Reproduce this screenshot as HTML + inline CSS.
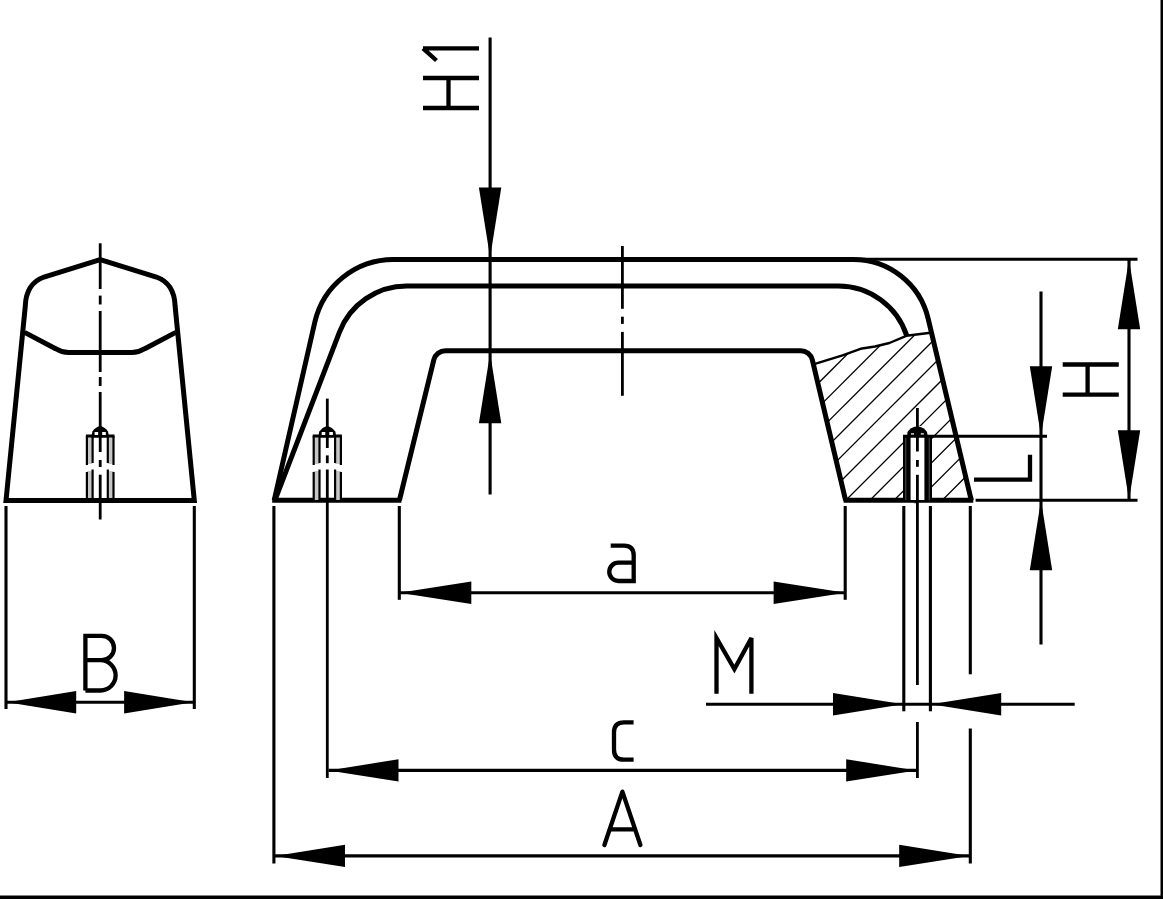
<!DOCTYPE html>
<html><head><meta charset="utf-8"><title>Handle drawing</title>
<style>html,body{margin:0;padding:0;background:#fff;width:1163px;height:899px;overflow:hidden;font-family:"Liberation Sans",sans-serif}svg{display:block}</style>
</head><body>
<svg width="1163" height="899" viewBox="0 0 1163 899" role="img" aria-label="Technical drawing of a handle with dimensions H1, H, L, a, B, M, c, A">
<defs><filter id="bl" x="-1%" y="-1%" width="102%" height="102%"><feGaussianBlur stdDeviation="0.75"/></filter><clipPath id="hc"><path clip-rule="evenodd" d="M813.37 364.3 L842.5 355.3 L860.5 348.8 L875 346.5 L889.4 343 L906.3 335.8 L930.52 332.8 L971.3 500.3 L845.6 500.3 Z M903.5 503.3 L903.5 426 L932 426 L932 503.3 Z"/></clipPath></defs>
<rect width="1163" height="899" fill="#fff"/>
<g stroke="#000" fill="none" filter="url(#bl)">
<path d="M274.2 500.3 L314.79 322.26 A80.7 80.7 0 0 1 393.47 259.5 L853.41 259.5 A76.8 76.8 0 0 1 928.14 318.55 L971.3 500.3" stroke-width="5" fill="none" />
<path d="M274.9 500.3 L339.45 332.19 A72 72 0 0 1 406.67 286 L838.3 286 A72 72 0 0 1 906.79 335.8" stroke-width="5" fill="none" />
<path d="M399.4 500.3 L433.81 359.84 A12 12 0 0 1 445.47 350.7 L800.66 350.7 A12 12 0 0 1 812.33 359.93 L845.6 500.3" stroke-width="5" fill="none" />
<path d="M272.2 500.3 H401.4" stroke-width="5" fill="none" />
<path d="M843.6 500.3 H973.3" stroke-width="5" fill="none" />
<g clip-path="url(#hc)" stroke-width="1.3"><line x1="891.5" y1="310" x2="691.5" y2="510"/><line x1="915.6" y1="310" x2="715.6" y2="510"/><line x1="939.7" y1="310" x2="739.7" y2="510"/><line x1="963.8" y1="310" x2="763.8" y2="510"/><line x1="987.9" y1="310" x2="787.9" y2="510"/><line x1="1012" y1="310" x2="812" y2="510"/><line x1="1036.1" y1="310" x2="836.1" y2="510"/><line x1="1060.2" y1="310" x2="860.2" y2="510"/><line x1="1084.3" y1="310" x2="884.3" y2="510"/><line x1="1108.4" y1="310" x2="908.4" y2="510"/><line x1="1132.5" y1="310" x2="932.5" y2="510"/><line x1="1156.6" y1="310" x2="956.6" y2="510"/><line x1="1180.7" y1="310" x2="980.7" y2="510"/></g>
<path d="M813.37 364.3 L842.5 355.3 L860.5 348.8 L875 346.5 L889.4 343 L906.3 335.8 L930.52 332.8" stroke-width="2.4" fill="none" stroke-linejoin="round"/>
<rect x="86.9" y="436" width="5.7" height="64" fill="#c6c6c6" stroke="none"/>
<rect x="107.8" y="436" width="5.7" height="64" fill="#c6c6c6" stroke="none"/>
<rect x="84.9" y="464" width="30.6" height="7" fill="#fff" stroke="none"/>
<line x1="86.9" y1="436" x2="86.9" y2="465" stroke-width="2.2" stroke-linecap="butt"/>
<line x1="86.9" y1="472" x2="86.9" y2="500.3" stroke-width="2.2" stroke-linecap="butt"/>
<line x1="113.5" y1="436" x2="113.5" y2="465" stroke-width="2.2" stroke-linecap="butt"/>
<line x1="113.5" y1="472" x2="113.5" y2="500.3" stroke-width="2.2" stroke-linecap="butt"/>
<line x1="92.6" y1="436" x2="92.6" y2="463" stroke-width="2.2" stroke-linecap="butt"/>
<line x1="92.6" y1="469.5" x2="92.6" y2="500.3" stroke-width="2.2" stroke-linecap="butt"/>
<line x1="107.8" y1="436" x2="107.8" y2="463" stroke-width="2.2" stroke-linecap="butt"/>
<line x1="107.8" y1="469.5" x2="107.8" y2="500.3" stroke-width="2.2" stroke-linecap="butt"/>
<line x1="85.9" y1="436" x2="114.5" y2="436" stroke-width="3" stroke-linecap="butt"/>
<path d="M91.2 437.5 L92.4 431.5 Q95.2 427.3 100.2 425.8 Q105.2 427.3 108 431.5 L109.2 437.5 Z" stroke-width="0" fill="#000" stroke="none"/>
<rect x="94.6" y="432" width="3.6" height="3" fill="#fff" stroke="none"/>
<rect x="102.2" y="432" width="3.6" height="3" fill="#fff" stroke="none"/>
<rect x="313.7" y="436" width="5.8" height="64" fill="#c6c6c6" stroke="none"/>
<rect x="335.1" y="436" width="5.8" height="64" fill="#c6c6c6" stroke="none"/>
<rect x="311.7" y="464" width="31.2" height="7" fill="#fff" stroke="none"/>
<line x1="313.7" y1="436" x2="313.7" y2="465" stroke-width="2.2" stroke-linecap="butt"/>
<line x1="313.7" y1="472" x2="313.7" y2="500.3" stroke-width="2.2" stroke-linecap="butt"/>
<line x1="340.9" y1="436" x2="340.9" y2="465" stroke-width="2.2" stroke-linecap="butt"/>
<line x1="340.9" y1="472" x2="340.9" y2="500.3" stroke-width="2.2" stroke-linecap="butt"/>
<line x1="319.5" y1="436" x2="319.5" y2="463" stroke-width="2.2" stroke-linecap="butt"/>
<line x1="319.5" y1="469.5" x2="319.5" y2="500.3" stroke-width="2.2" stroke-linecap="butt"/>
<line x1="335.1" y1="436" x2="335.1" y2="463" stroke-width="2.2" stroke-linecap="butt"/>
<line x1="335.1" y1="469.5" x2="335.1" y2="500.3" stroke-width="2.2" stroke-linecap="butt"/>
<line x1="312.7" y1="436" x2="341.9" y2="436" stroke-width="3" stroke-linecap="butt"/>
<path d="M318.1 437.5 L319.3 431.5 Q322.3 427.3 327.3 425.8 Q332.3 427.3 335.3 431.5 L336.5 437.5 Z" stroke-width="0" fill="#000" stroke="none"/>
<rect x="321.7" y="432" width="3.6" height="3" fill="#fff" stroke="none"/>
<rect x="329.3" y="432" width="3.6" height="3" fill="#fff" stroke="none"/>
<rect x="903.5" y="436" width="28" height="64" fill="#fff" stroke="none"/>
<rect x="904" y="436" width="5" height="64" fill="#3a3a3a" stroke="none"/>
<rect x="926" y="436" width="5" height="64" fill="#3a3a3a" stroke="none"/>
<line x1="904" y1="436" x2="904" y2="500.3" stroke-width="2" stroke-linecap="butt"/>
<line x1="931" y1="436" x2="931" y2="500.3" stroke-width="2" stroke-linecap="butt"/>
<line x1="908.5" y1="436" x2="908.5" y2="500.3" stroke-width="4.2" stroke-linecap="butt"/>
<line x1="926.5" y1="436" x2="926.5" y2="500.3" stroke-width="4.2" stroke-linecap="butt"/>
<path d="M907 437 L907.5 432 Q910 427.5 917.3 426.3 Q924.5 427.5 927 432 L928 437 Z" stroke-width="0" fill="#000" stroke="none"/>
<rect x="911" y="433.3" width="3" height="1.4" fill="#fff" stroke="none"/>
<rect x="920.8" y="433.3" width="3" height="1.4" fill="#fff" stroke="none"/>
<line x1="903" y1="436.2" x2="1047" y2="436.2" stroke-width="2.9" stroke-linecap="butt"/>
<line x1="100.2" y1="243.3" x2="100.2" y2="289" stroke-width="2.8" stroke-linecap="butt"/>
<line x1="100.2" y1="295.6" x2="100.2" y2="304.5" stroke-width="2.8" stroke-linecap="butt"/>
<line x1="100.2" y1="311" x2="100.2" y2="372" stroke-width="2.8" stroke-linecap="butt"/>
<line x1="100.2" y1="377" x2="100.2" y2="386" stroke-width="2.8" stroke-linecap="butt"/>
<line x1="100.2" y1="392" x2="100.2" y2="452" stroke-width="2.8" stroke-linecap="butt"/>
<line x1="100.2" y1="460" x2="100.2" y2="467" stroke-width="2.8" stroke-linecap="butt"/>
<line x1="100.2" y1="474.7" x2="100.2" y2="519.5" stroke-width="2.8" stroke-linecap="butt"/>
<line x1="327.3" y1="398.6" x2="327.3" y2="448" stroke-width="2.8" stroke-linecap="butt"/>
<line x1="327.3" y1="455.4" x2="327.3" y2="463.2" stroke-width="2.8" stroke-linecap="butt"/>
<line x1="327.3" y1="469.5" x2="327.3" y2="778" stroke-width="2.8" stroke-linecap="butt"/>
<line x1="917.4" y1="408" x2="917.4" y2="451.5" stroke-width="2.8" stroke-linecap="butt"/>
<line x1="917.4" y1="460" x2="917.4" y2="466.8" stroke-width="2.8" stroke-linecap="butt"/>
<line x1="917.4" y1="474.8" x2="917.4" y2="685" stroke-width="2.8" stroke-linecap="butt"/>
<line x1="917.4" y1="722" x2="917.4" y2="778" stroke-width="2.8" stroke-linecap="butt"/>
<line x1="622.2" y1="246" x2="622.2" y2="308.8" stroke="#fff" stroke-width="0"/>
<line x1="622.4" y1="246" x2="622.4" y2="308.8" stroke-width="2.8" stroke-linecap="butt"/>
<line x1="622.4" y1="316.7" x2="622.4" y2="323.9" stroke-width="2.8" stroke-linecap="butt"/>
<line x1="622.4" y1="331.9" x2="622.4" y2="395.8" stroke-width="2.8" stroke-linecap="butt"/>
<path d="M6 500.5 L25.3 306 Q26 283.5 44 277 L100.2 259.6 L156.4 277 Q174.4 283.5 175.1 306 L194.3 500.5 Z" stroke-width="5" fill="none" stroke-linejoin="miter"/>
<path d="M24.6 332.4 L55.6 348.7 Q62 352.6 68.5 352.6 L131.9 352.6 Q138.4 352.6 144.8 348.7 L175.8 332.4" stroke-width="5" fill="none" />
<line x1="490.1" y1="37.5" x2="490.1" y2="494.5" stroke-width="3.1" stroke-linecap="butt"/>
<polygon points="490.1,257.6 478.9,187.6 501.3,187.6" fill="#000" stroke="none"/>
<polygon points="490.1,353.3 501.3,423.3 478.9,423.3" fill="#000" stroke="none"/>
<line x1="852" y1="259.3" x2="1137.5" y2="259.3" stroke-width="3.1" stroke-linecap="butt"/>
<line x1="975.6" y1="500.2" x2="1137.5" y2="500.2" stroke-width="3.1" stroke-linecap="butt"/>
<line x1="1129" y1="259.3" x2="1129" y2="500.2" stroke-width="3.1" stroke-linecap="butt"/>
<polygon points="1129,259.3 1140.2,329.3 1117.8,329.3" fill="#000" stroke="none"/>
<polygon points="1129,500.2 1117.8,430.2 1140.2,430.2" fill="#000" stroke="none"/>
<line x1="1041" y1="291.4" x2="1041" y2="644.5" stroke-width="3.1" stroke-linecap="butt"/>
<polygon points="1041,436.2 1029.8,366.2 1052.2,366.2" fill="#000" stroke="none"/>
<polygon points="1041,500.2 1052.2,570.2 1029.8,570.2" fill="#000" stroke="none"/>
<line x1="399.3" y1="506" x2="399.3" y2="599.8" stroke-width="3.1" stroke-linecap="butt"/>
<line x1="845.2" y1="506" x2="845.2" y2="599.8" stroke-width="3.1" stroke-linecap="butt"/>
<line x1="399.3" y1="592.7" x2="845.6" y2="592.7" stroke-width="3.1" stroke-linecap="butt"/>
<polygon points="399.3,592.7 471.3,581.5 471.3,603.9" fill="#000" stroke="none"/>
<polygon points="845.6,592.7 773.6,603.9 773.6,581.5" fill="#000" stroke="none"/>
<line x1="6" y1="506" x2="6" y2="709" stroke-width="3.1" stroke-linecap="butt"/>
<line x1="194.3" y1="506" x2="194.3" y2="709" stroke-width="3.1" stroke-linecap="butt"/>
<line x1="6" y1="702.3" x2="194.3" y2="702.3" stroke-width="3.1" stroke-linecap="butt"/>
<polygon points="7.2,702.3 76.2,691.1 76.2,713.5" fill="#000" stroke="none"/>
<polygon points="193.1,702.3 124.1,713.5 124.1,691.1" fill="#000" stroke="none"/>
<line x1="328.5" y1="770.4" x2="916.2" y2="770.4" stroke-width="3.1" stroke-linecap="butt"/>
<polygon points="328.5,770.4 398.5,759.2 398.5,781.6" fill="#000" stroke="none"/>
<polygon points="916.2,770.4 846.2,781.6 846.2,759.2" fill="#000" stroke="none"/>
<line x1="273.9" y1="506" x2="273.9" y2="863.5" stroke-width="3.1" stroke-linecap="butt"/>
<line x1="970.3" y1="506" x2="970.3" y2="674.3" stroke-width="3.1" stroke-linecap="butt"/>
<line x1="970.3" y1="728.5" x2="970.3" y2="863.5" stroke-width="3.1" stroke-linecap="butt"/>
<line x1="275" y1="855.9" x2="969.2" y2="855.9" stroke-width="3.1" stroke-linecap="butt"/>
<polygon points="275,855.9 345,844.7 345,867.1" fill="#000" stroke="none"/>
<polygon points="969.2,855.9 899.2,867.1 899.2,844.7" fill="#000" stroke="none"/>
<line x1="903.8" y1="506" x2="903.8" y2="711.3" stroke-width="3.1" stroke-linecap="butt"/>
<line x1="930.4" y1="506" x2="930.4" y2="711.3" stroke-width="3.1" stroke-linecap="butt"/>
<line x1="706" y1="704.3" x2="1074.7" y2="704.3" stroke-width="3.1" stroke-linecap="butt"/>
<polygon points="903,704.3 833,715.5 833,693.1" fill="#000" stroke="none"/>
<polygon points="931.2,704.3 1001.2,693.1 1001.2,715.5" fill="#000" stroke="none"/>
<path d="M423 48.3 H479 M423 48.3 L436.5 60.5" stroke-width="4.3" fill="none" stroke-linecap="butt" stroke-linejoin="miter"/>
<path d="M423 78 H479 M423 108 H479 M448.5 78 V108" stroke-width="4.3" fill="none" stroke-linecap="butt" stroke-linejoin="miter"/>
<path d="M1062.7 364.5 H1118.8 M1062.7 394.7 H1118.8 M1087.6 364.5 V394.7" stroke-width="4.3" fill="none" stroke-linecap="butt" stroke-linejoin="miter"/>
<path d="M974 479.7 H1030 V454.8" stroke-width="4.3" fill="none" stroke-linecap="butt" stroke-linejoin="miter"/>
<path d="M610.7 545.7 H624 Q633.7 545.7 633.7 555.4 V581 H618.4 A9.15 9.15 0 0 1 618.4 562.7 H633.7" stroke-width="4.3" fill="none" stroke-linecap="butt" stroke-linejoin="miter"/>
<path d="M85.4 690.5 V635.8 H101.8 A12.2 12.2 0 0 1 101.8 660.2 H85.4 M101.8 660.2 H100.5 A15.15 15.15 0 0 1 100.5 690.5 H85.4" stroke-width="4.3" fill="none" stroke-linecap="butt" stroke-linejoin="miter"/>
<path d="M716.5 693.7 V638 L734.4 669.1 L751.4 638 V693.7" stroke-width="4.3" fill="none" stroke-linecap="butt" stroke-linejoin="miter"/>
<path d="M633.6 722.3 H624 Q614 722.3 614 732.3 V749.7 Q614 759.7 624 759.7 H633.6" stroke-width="4.3" fill="none" stroke-linecap="butt" stroke-linejoin="miter"/>
<path d="M604.4 845 L622.4 791.6 L640.4 845 M609.8 829.4 H635" stroke-width="4.3" fill="none" stroke-linecap="round" stroke-linejoin="round"/>
<rect x="1160.5" y="0" width="3" height="899" fill="#000" stroke="none"/>
<rect x="0" y="895.5" width="1163" height="4" fill="#000" stroke="none"/>
</g>
</svg>
</body></html>
